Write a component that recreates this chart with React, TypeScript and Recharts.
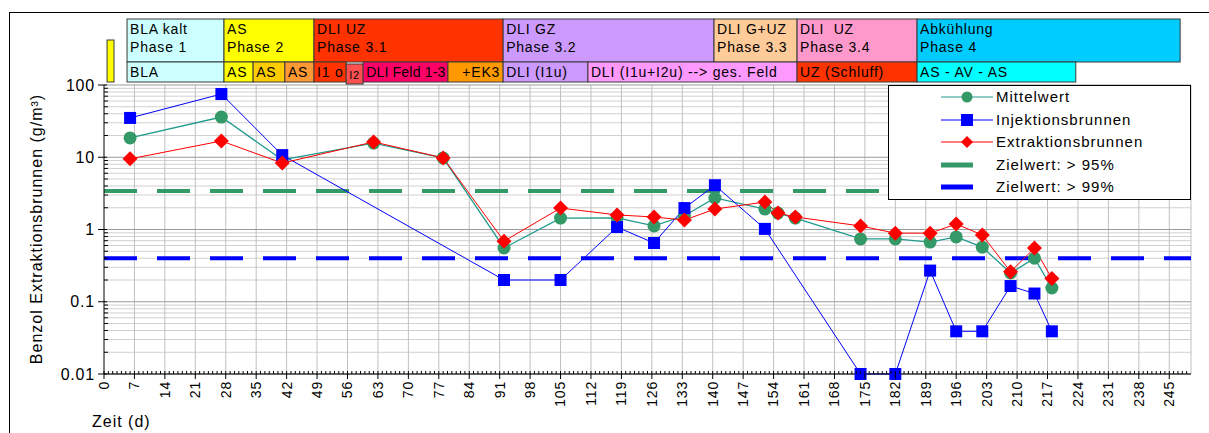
import React from "react";
import {
  ComposedChart,
  Line,
  XAxis,
  YAxis,
  CartesianGrid,
  ReferenceLine,
  ReferenceArea,
} from "recharts";

// Messzeitpunkte (Tage) und Benzol-Konzentrationen (g/m³)
const days = [6, 27, 41, 62, 78, 92, 105, 118, 126.5, 133.5, 140.5, 152, 155, 159, 174, 182, 190, 196, 202, 208.5, 214, 218];
const mittelwert = [18.5, 36, 9.2, 15.7, 9.8, 0.555, 1.44, 1.45, 1.12, 1.55, 2.73, 1.92, 1.69, 1.44, 0.74, 0.74, 0.67, 0.79, 0.57, 0.25, 0.4, 0.155];
const injektion = [35, 75, 10.7, null, null, 0.2, 0.2, 1.08, 0.65, 1.98, 4.1, 1.02, null, null, 0.01, 0.01, 0.27, 0.039, 0.039, 0.165, 0.13, 0.039];
const extraktion = [9.5, 16.8, 8.3, 16.3, 9.8, 0.69, 1.98, 1.59, 1.49, 1.35, 1.92, 2.4, 1.69, 1.49, 1.12, 0.89, 0.89, 1.19, 0.84, 0.26, 0.555, 0.21];

const zielwert95 = 3.4;
const zielwert99 = 0.4;

// Phasen (obere Zeile)
const phaseTitles = ["BLA kalt", "AS", "DLI UZ", "DLI GZ", "DLI G+UZ", "DLI  UZ", "Abkühlung"];
const phaseNames = ["Phase 1", "Phase 2", "Phase 3.1", "Phase 3.2", "Phase 3.3", "Phase 3.4", "Phase 4"];
const phaseFrom = [5.3, 27.6, 48.3, 91.8, 140.3, 159.4, 187];
const phaseTo = [27.6, 48.3, 91.8, 140.3, 159.4, 187, 247.5];
const phaseColors = ["#CCFFFF", "#FFFF00", "#FF3300", "#CC99FF", "#FFCC99", "#FF99CC", "#00CCFF"];

// Betriebsschritte (untere Zeile)
const stepTitles = ["BLA", "AS", "AS", "AS", "I1 o", "I2", "DLI Feld 1-3", "+EK3", "DLI (I1u)", "DLI (I1u+I2u) --> ges. Feld", "UZ (Schluff)", "AS - AV - AS"];
const stepFrom = [5.3, 27.6, 34.3, 41.6, 48.3, 55.7, 59.6, 79.1, 91.8, 111.3, 159.4, 187];
const stepTo = [27.6, 34.3, 41.6, 48.3, 55.7, 59.6, 79.1, 91.8, 111.3, 159.4, 187, 223.5];
const stepColors = ["#CCFFFF", "#FFFF00", "#FFCC00", "#FF9933", "#FF3300", "#FF5050", "#FF0066", "#FF9900", "#CC99FF", "#FF99FF", "#FF3300", "#00FFFF"];

const xMajor = Array.from({ length: 36 }, (_, i) => i * 7);
const xAll = Array.from({ length: 250 }, (_, i) => i);
const decades = [0.01, 0.1, 1, 10, 100];
const minorFactors = [2, 3, 4, 5, 6, 7, 8, 9];
const yMinor = decades.slice(0, -1).flatMap((d) => minorFactors.map((f) => +(d * f).toPrecision(3)));
const yTicks = [...decades, ...yMinor].sort((a, b) => a - b);

const data = days.map((d, i) => ({
  day: d,
  mittelwert: mittelwert[i],
  injektion: injektion[i],
  extraktion: extraktion[i],
}));

const FONT = "Arial, 'Liberation Sans', sans-serif";
const GREEN = "#339966";
const TEAL = "#1F9A8C";
const BLUE = "#0000FF";
const RED = "#FF0000";

const XTick = (props: any) => {
  const { x, y, payload } = props;
  const v = payload.value;
  if (v % 7 !== 0) return <line x1={x} x2={x} y1={y - 3} y2={y} stroke="#000" />;
  return (
    <g>
      <line x1={x} x2={x} y1={y - 3} y2={y + 5} stroke="#000" />
      <text
        transform={`translate(${x},${y + 7}) rotate(-90)`}
        dy="0.35em"
        textAnchor="end"
        fontSize={14}
        letterSpacing={0.8}
        fill="#000"
        fontFamily={FONT}
      >
        {v}
      </text>
    </g>
  );
};

const YTick = (props: any) => {
  const { x, y, payload } = props;
  const v = payload.value;
  if (!decades.includes(v)) return <line x1={x} x2={x + 4} y1={y} y2={y} stroke="#000" />;
  return (
    <g>
      <line x1={x - 6} x2={x + 3} y1={y} y2={y} stroke="#000" />
      <text x={x - 9} y={y} dy="0.35em" textAnchor="end" fontSize={16} letterSpacing={0.8} fill="#000" fontFamily={FONT}>
        {String(v)}
      </text>
    </g>
  );
};

// Kopfzeilen-Kästchen über der Zeichenfläche
const headerShape = (top: number, height: number, fill: string, line1?: string, line2?: string, opts: any = {}) => (p: any) => {
  const y0 = p.y + top;
  const fs = opts.fontSize ?? 14;
  const ls = opts.letterSpacing ?? 0.8;
  const right = opts.align === "end";
  return (
    <g>
      <rect x={p.x} y={y0} width={p.width} height={height} fill={fill} stroke="#3a3a3a" strokeWidth={1} />
      {line1 && (
        <text
          x={right ? p.x + p.width - 3 : p.x + 3}
          y={y0 + 15}
          textAnchor={right ? "end" : "start"}
          fontSize={fs}
          letterSpacing={ls}
          fill="#000"
          fontFamily={FONT}
          style={{ whiteSpace: "pre" }}
        >
          {line1}
        </text>
      )}
      {line2 && (
        <text x={p.x + 3} y={y0 + 33} fontSize={fs} letterSpacing={ls} fill="#000" fontFamily={FONT}>
          {line2}
        </text>
      )}
    </g>
  );
};

const stepShape = (i: number) => {
  const t = stepTitles[i];
  if (t === "I2") return headerShape(-21, 20, stepColors[i], t, undefined, { fontSize: 11 });
  if (t === "+EK3") return headerShape(-23, 20, stepColors[i], t, undefined, { align: "end" });
  if (t === "DLI Feld 1-3") return headerShape(-23, 20, stepColors[i], t, undefined, { letterSpacing: 0.2 });
  return headerShape(-23, 20, stepColors[i], t);
};

const legendItems = [
  { name: "Mittelwert", kind: "circle", color: GREEN, line: TEAL },
  { name: "Injektionsbrunnen", kind: "square", color: BLUE, line: BLUE },
  { name: "Extraktionsbrunnen", kind: "diamond", color: RED, line: RED },
  { name: "Zielwert: > 95%", kind: "thick", color: GREEN, line: GREEN },
  { name: "Zielwert: > 99%", kind: "thick", color: BLUE, line: BLUE },
];

const LegendBox = () => (
  <div
    style={{
      position: "absolute",
      left: 888,
      top: 85,
      width: 303,
      height: 115,
      border: "1px solid #000",
      boxSizing: "border-box",
      background: "#fff",
      fontFamily: FONT,
      fontSize: 15,
      letterSpacing: 1,
    }}
  >
    {legendItems.map((it, i) => (
      <div key={it.name} style={{ position: "absolute", left: 0, top: i * 22.5, height: 22, width: "100%" }}>
        <svg width={56} height={22} style={{ position: "absolute", left: 51, top: 0 }}>
          {it.kind === "thick" ? (
            <line x1={1} x2={33} y1={11} y2={11} stroke={it.line} strokeWidth={5} />
          ) : (
            <line x1={1} x2={53} y1={11} y2={11} stroke={it.line} strokeWidth={1.2} />
          )}
          {it.kind === "circle" && <circle cx={27} cy={11} r={5.5} fill={it.color} />}
          {it.kind === "square" && <rect x={21} y={5} width={12} height={12} fill={it.color} />}
          {it.kind === "diamond" && <polygon points="27,5 33,11 27,17 21,11" fill={it.color} />}
        </svg>
        <span style={{ position: "absolute", left: 107, top: 2, lineHeight: "18px", whiteSpace: "nowrap" }}>{it.name}</span>
      </div>
    ))}
  </div>
);

const CircleDot = (p: any) => {
  if (p.cx == null || p.cy == null || p.value == null) return <g key={p.index} />;
  return <circle key={p.index} cx={p.cx} cy={p.cy} r={6.5} fill={GREEN} />;
};

const SquareDot = (p: any) => {
  if (p.cx == null || p.cy == null || p.value == null) return <g key={p.index} />;
  return <rect key={p.index} x={p.cx - 6} y={p.cy - 6} width={12} height={12} fill={BLUE} />;
};

const DiamondDot = (p: any) => {
  if (p.cx == null || p.cy == null || p.value == null) return <g key={p.index} />;
  const { cx, cy } = p;
  return <polygon key={p.index} points={`${cx},${cy - 7.5} ${cx + 7.5},${cy} ${cx},${cy + 7.5} ${cx - 7.5},${cy}`} fill={RED} />;
};

export default function App() {
  return (
    <div style={{ position: "relative", width: 1209, height: 433, overflow: "hidden", background: "#fff", fontFamily: FONT }}>
      <style>{"html,body{margin:0;padding:0;overflow:hidden;background:#fff}"}</style>
      <div style={{ position: "absolute", left: 9, top: 12, width: 1300, height: 600, border: "1px solid #000" }} />
      <ComposedChart width={1209} height={433} data={data} margin={{ top: 85, right: 18, bottom: 0, left: 0 }}>
        <CartesianGrid horizontalValues={yMinor} vertical={false} stroke="#D0D0D0" />
        <CartesianGrid verticalValues={[...xMajor.slice(1), 250]} horizontal={false} stroke="#C0C0C0" />
        <CartesianGrid horizontalValues={decades} vertical={false} stroke="#9A9A9A" />
        <XAxis
          dataKey="day"
          type="number"
          domain={[0, 250]}
          ticks={xAll}
          interval={0}
          tickSize={0}
          tickMargin={0}
          tickLine={false}
          tick={<XTick />}
          axisLine={{ stroke: "#000" }}
          height={59}
          label={{
            content: () => (
              <text x={92} y={427} fontSize={16} letterSpacing={1} fill="#000" fontFamily={FONT}>
                Zeit (d)
              </text>
            ),
          }}
        />
        <YAxis
          type="number"
          scale="log"
          domain={[0.01, 100]}
          ticks={yTicks}
          interval={0}
          tickSize={0}
          tickMargin={0}
          tickLine={false}
          tick={<YTick />}
          axisLine={{ stroke: "#000" }}
          width={104}
          label={{
            content: () => (
              <text
                x={36}
                y={229}
                transform="rotate(-90 36 229)"
                textAnchor="middle"
                dominantBaseline="central"
                fontSize={16}
                letterSpacing={1}
                fill="#000"
                fontFamily={FONT}
              >
                Benzol Extraktionsbrunnen (g/m³)
              </text>
            ),
          }}
        />
        {/* Kopfzeilen */}
        <ReferenceArea x1={0.7} x2={2.3} ifOverflow="visible" shape={headerShape(-45, 42, "#FFFF00")} />
        {phaseTitles.map((t, i) => (
          <ReferenceArea
            key={"p" + i}
            x1={phaseFrom[i]}
            x2={phaseTo[i]}
            ifOverflow="visible"
            shape={headerShape(-66, 43, phaseColors[i], t, phaseNames[i])}
          />
        ))}
        {stepTitles.map((t, i) => (
          <ReferenceArea key={"s" + i} x1={stepFrom[i]} x2={stepTo[i]} ifOverflow="visible" shape={stepShape(i)} />
        ))}
        <ReferenceLine y={zielwert95} stroke={GREEN} strokeWidth={4} strokeDasharray="33 20" />
        <ReferenceLine y={zielwert99} stroke={BLUE} strokeWidth={4} strokeDasharray="33 20" />
        <Line
          dataKey="mittelwert"
          name="Mittelwert"
          stroke={TEAL}
          strokeWidth={1.3}
          dot={CircleDot}
          activeDot={false}
          isAnimationActive={false}
        />
        <Line
          dataKey="injektion"
          name="Injektionsbrunnen"
          stroke={BLUE}
          strokeWidth={1}
          connectNulls
          dot={SquareDot}
          activeDot={false}
          isAnimationActive={false}
        />
        <Line
          dataKey="extraktion"
          name="Extraktionsbrunnen"
          stroke={RED}
          strokeWidth={1}
          dot={DiamondDot}
          activeDot={false}
          isAnimationActive={false}
        />
      </ComposedChart>
      <LegendBox />
    </div>
  );
}
